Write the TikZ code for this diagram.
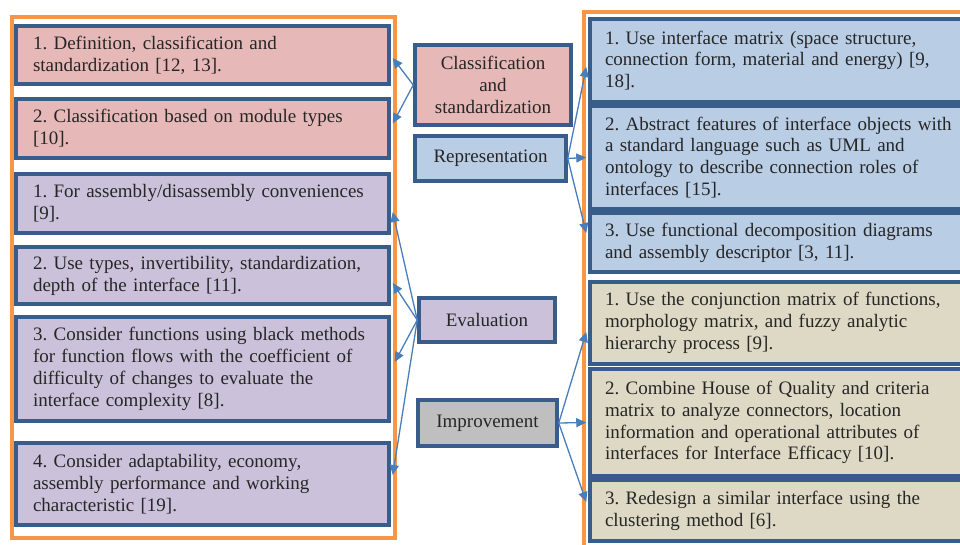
\documentclass[tikz,border=0pt]{standalone}
\usepackage{fontspec}
\setmainfont{Liberation Serif}
\usetikzlibrary{arrows.meta,calc}
\definecolor{bordc}{HTML}{385D8A}
\definecolor{orangec}{HTML}{F79646}
\definecolor{arrc}{HTML}{4A7EBB}
\definecolor{pinkc}{HTML}{E6B9B8}
\definecolor{purplec}{HTML}{CCC1DA}
\definecolor{bluec}{HTML}{B9CDE5}
\definecolor{beigec}{HTML}{DDD9C4}
\definecolor{grayc}{HTML}{BFBFBF}
\definecolor{txtc}{HTML}{262626}
\tikzset{
  box/.style={draw=bordc, line width=3.5pt, rectangle, text=txtc,
    font=\fontsize{19}{21.9}\selectfont\frenchspacing, inner ysep=0pt},
  lbox/.style={box, text width=339pt, inner xsep=17pt, align=left},
  rbox/.style={box, text width=365pt, inner xsep=15pt, align=left},
  mbox/.style={box, align=center, inner xsep=0pt},
  frame/.style={draw=orangec, line width=4pt},
  arr/.style={draw=arrc, line width=1.3pt, -{Triangle[length=10pt,width=9pt]}}
}
\begin{document}
\frenchspacing
\begin{tikzpicture}[x=1pt,y=-1pt]
\useasboundingbox (0,0) rectangle (960,544);
\clip (0,0) rectangle (960,544);
% frames
\draw[frame] (11.5,17) rectangle (394.5,537.5);
\draw[frame] (584,12) rectangle (1000,580);
% left boxes
\node[lbox, fill=pinkc, minimum height=58pt] (L1) at (202.5,55)
  {1. Definition, classification and\\standardization [12, 13].};
\node[lbox, fill=pinkc, minimum height=59pt] (L2) at (202.5,128.5)
  {2. Classification based on module types\\{[10]}.};
\node[lbox, fill=purplec, minimum height=59pt] (L3) at (202.5,203.5)
  {1. For assembly/disassembly conveniences\\{[9]}.};
\node[lbox, fill=purplec, minimum height=57pt] (L4) at (202.5,275.5)
  {2. Use types, invertibility, standardization,\\depth of the interface [11].};
\node[lbox, fill=purplec, minimum height=104pt] (L5) at (202.5,369)
  {3. Consider functions using black methods\\for function flows with the coefficient of\\difficulty of changes to evaluate the\\interface complexity [8].};
\node[lbox, fill=purplec, minimum height=82pt] (L6) at (202.5,484)
  {4. Consider adaptability, economy,\\assembly performance and working\\characteristic [19].};
% middle boxes
\node[mbox, fill=pinkc, minimum width=156pt, minimum height=80pt] (cls) at (493,85)
  {Classification\\and\\standardization};
\node[mbox, fill=bluec, minimum width=151pt, minimum height=45pt] (rep) at (490.5,158.5)
  {Representation};
\node[mbox, fill=purplec, minimum width=136pt, minimum height=44pt] (eval) at (487,320)
  {Evaluation};
\node[mbox, fill=grayc, minimum width=139pt, minimum height=46pt] (imp) at (487.5,423)
  {Improvement};
% right boxes
\node[rbox, fill=bluec, minimum height=83pt] (R1) at (787.5,60.5)
  {1. Use interface matrix (space structure,\\connection form, material and energy) [9,\\18].};
\node[rbox, fill=bluec, minimum height=103pt] (R2) at (787.5,157.5)
  {2. Abstract features of interface objects with\\a standard language such as UML and\\ontology to describe connection roles of\\interfaces [15].};
\node[rbox, fill=bluec, minimum height=59pt] (R3) at (787.5,242.5)
  {3. Use functional decomposition diagrams\\and assembly descriptor [3, 11].};
\node[rbox, fill=beigec, minimum height=82pt] (R4) at (787.5,323)
  {1. Use the conjunction matrix of functions,\\morphology matrix, and fuzzy analytic\\hierarchy process [9].};
\node[rbox, fill=beigec, minimum height=107pt] (R5) at (787.5,422.5)
  {2. Combine House of Quality and criteria\\matrix to analyze connectors, location\\information and operational attributes of\\interfaces for Interface Efficacy [10].};
\node[rbox, fill=beigec, minimum height=61pt] (R6) at (787.5,510.5)
  {3. Redesign a similar interface using the\\clustering method [6].};
% connectors
\draw[arr] (cls.west) -- ($(L1.east)+(2,3)$);
\draw[arr] (cls.west) -- ($(L2.east)+(2,-5)$);
\draw[arr] (eval.west) -- ($(L3.east)+(2,8.5)$);
\draw[arr] (eval.west) -- ($(L4.east)+(2,7.5)$);
\draw[arr] (eval.west) -- ($(L5.east)+(4,-7)$);
\draw[arr] (eval.west) -- ($(L6.east)+(2,-9)$);
\draw[arr] (rep.east) -- ($(R1.west)+(-2,6.5)$);
\draw[arr] (rep.east) -- ($(R2.west)+(-2,0)$);
\draw[arr] (rep.east) -- ($(R3.west)+(-2,-9.5)$);
\draw[arr] (imp.east) -- ($(R4.west)+(-2,9)$);
\draw[arr] (imp.east) -- ($(R5.west)+(-2,0)$);
\draw[arr] (imp.east) -- ($(R6.west)+(-2,-8.5)$);
\end{tikzpicture}
\end{document}
